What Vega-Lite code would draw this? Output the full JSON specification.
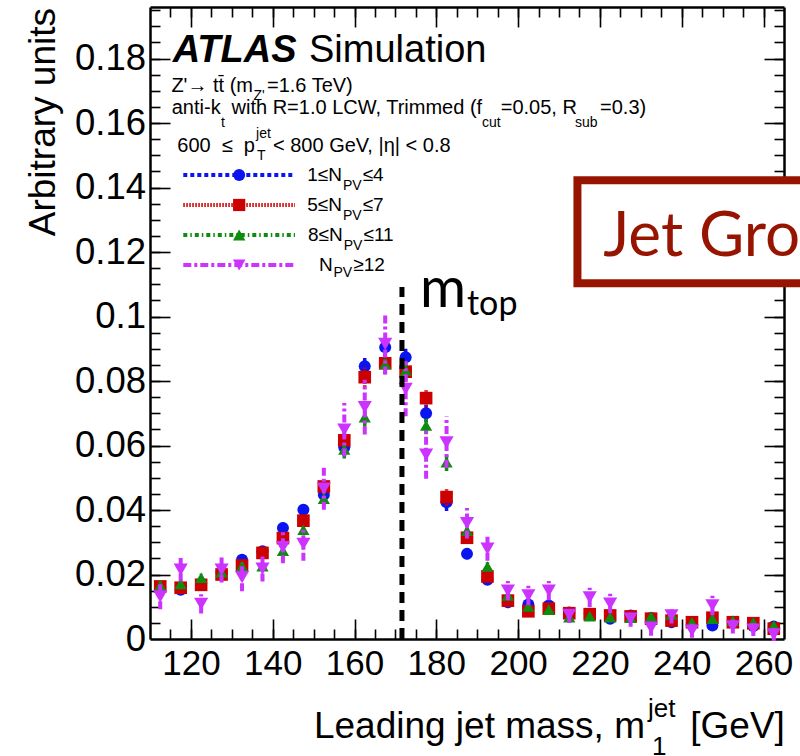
{
  "$schema": "https://vega.github.io/schema/vega-lite/v6.json",
  "width": 634,
  "height": 632,
  "autosize": "none",
  "padding": {"left": 150, "top": 7, "right": 16, "bottom": 117},
  "background": "white",
  "view": {"stroke": null},
  "config": {
    "font": "Liberation Sans",
    "axis": {
      "grid": false,
      "domainColor": "black",
      "domainWidth": 2.5,
      "tickColor": "black",
      "tickWidth": 1.6,
      "labelColor": "black",
      "labelFont": "Liberation Sans",
      "labelFontSize": 35,
      "labelOverlap": false,
      "labelFlush": false
    }
  },
  "datasets": {
    "n1_4": [
      {"m": 112.5, "v": 0.0160, "e": 0.0013}, {"m": 117.5, "v": 0.0153, "e": 0.0013},
      {"m": 122.5, "v": 0.0172, "e": 0.0012}, {"m": 127.5, "v": 0.0207, "e": 0.0013},
      {"m": 132.5, "v": 0.0246, "e": 0.0015}, {"m": 137.5, "v": 0.0272, "e": 0.0015},
      {"m": 142.5, "v": 0.0344, "e": 0.0017}, {"m": 147.5, "v": 0.0401, "e": 0.0018},
      {"m": 152.5, "v": 0.0447, "e": 0.0022}, {"m": 157.5, "v": 0.0595, "e": 0.0028},
      {"m": 162.5, "v": 0.0846, "e": 0.0030}, {"m": 167.5, "v": 0.0905, "e": 0.0032},
      {"m": 172.5, "v": 0.0874, "e": 0.0030}, {"m": 177.5, "v": 0.0700, "e": 0.0027},
      {"m": 182.5, "v": 0.0424, "e": 0.0027}, {"m": 187.5, "v": 0.0264, "e": 0.0017},
      {"m": 192.5, "v": 0.0184, "e": 0.0013}, {"m": 197.5, "v": 0.0114, "e": 0.0010},
      {"m": 202.5, "v": 0.0107, "e": 0.0010}, {"m": 207.5, "v": 0.0104, "e": 0.0010},
      {"m": 212.5, "v": 0.0082, "e": 0.0009}, {"m": 217.5, "v": 0.0078, "e": 0.0009},
      {"m": 222.5, "v": 0.0063, "e": 0.0009}, {"m": 227.5, "v": 0.0073, "e": 0.0008},
      {"m": 232.5, "v": 0.0065, "e": 0.0008}, {"m": 237.5, "v": 0.0052, "e": 0.0008},
      {"m": 242.5, "v": 0.0051, "e": 0.0008}, {"m": 247.5, "v": 0.0042, "e": 0.0008},
      {"m": 252.5, "v": 0.0050, "e": 0.0007}, {"m": 257.5, "v": 0.0040, "e": 0.0007},
      {"m": 262.5, "v": 0.0039, "e": 0.0007}
    ],
    "n5_7": [
      {"m": 112.5, "v": 0.0163, "e": 0.0013}, {"m": 117.5, "v": 0.0159, "e": 0.0013},
      {"m": 122.5, "v": 0.0168, "e": 0.0012}, {"m": 127.5, "v": 0.0200, "e": 0.0013},
      {"m": 132.5, "v": 0.0228, "e": 0.0015}, {"m": 137.5, "v": 0.0267, "e": 0.0015},
      {"m": 142.5, "v": 0.0313, "e": 0.0017}, {"m": 147.5, "v": 0.0367, "e": 0.0018},
      {"m": 152.5, "v": 0.0473, "e": 0.0022}, {"m": 157.5, "v": 0.0616, "e": 0.0028},
      {"m": 162.5, "v": 0.0812, "e": 0.0030}, {"m": 167.5, "v": 0.0855, "e": 0.0032},
      {"m": 172.5, "v": 0.0829, "e": 0.0030}, {"m": 177.5, "v": 0.0747, "e": 0.0027},
      {"m": 182.5, "v": 0.0440, "e": 0.0027}, {"m": 187.5, "v": 0.0314, "e": 0.0017},
      {"m": 192.5, "v": 0.0194, "e": 0.0013}, {"m": 197.5, "v": 0.0119, "e": 0.0010},
      {"m": 202.5, "v": 0.0086, "e": 0.0010}, {"m": 207.5, "v": 0.0094, "e": 0.0010},
      {"m": 212.5, "v": 0.0080, "e": 0.0009}, {"m": 217.5, "v": 0.0077, "e": 0.0009},
      {"m": 222.5, "v": 0.0073, "e": 0.0009}, {"m": 227.5, "v": 0.0070, "e": 0.0008},
      {"m": 232.5, "v": 0.0063, "e": 0.0008}, {"m": 237.5, "v": 0.0057, "e": 0.0008},
      {"m": 242.5, "v": 0.0052, "e": 0.0008}, {"m": 247.5, "v": 0.0066, "e": 0.0008},
      {"m": 252.5, "v": 0.0052, "e": 0.0007}, {"m": 257.5, "v": 0.0049, "e": 0.0007},
      {"m": 262.5, "v": 0.0032, "e": 0.0007}
    ],
    "n8_11": [
      {"m": 112.5, "v": 0.0166, "e": 0.0013}, {"m": 117.5, "v": 0.0171, "e": 0.0013},
      {"m": 122.5, "v": 0.0190, "e": 0.0012}, {"m": 127.5, "v": 0.0207, "e": 0.0013},
      {"m": 132.5, "v": 0.0226, "e": 0.0015}, {"m": 137.5, "v": 0.0226, "e": 0.0015},
      {"m": 142.5, "v": 0.0274, "e": 0.0017}, {"m": 147.5, "v": 0.0339, "e": 0.0018},
      {"m": 152.5, "v": 0.0435, "e": 0.0022}, {"m": 157.5, "v": 0.0588, "e": 0.0028},
      {"m": 162.5, "v": 0.0688, "e": 0.0030}, {"m": 167.5, "v": 0.0853, "e": 0.0032},
      {"m": 172.5, "v": 0.0833, "e": 0.0030}, {"m": 177.5, "v": 0.0662, "e": 0.0027},
      {"m": 182.5, "v": 0.0548, "e": 0.0027}, {"m": 187.5, "v": 0.0336, "e": 0.0017},
      {"m": 192.5, "v": 0.0225, "e": 0.0013}, {"m": 197.5, "v": 0.0135, "e": 0.0010},
      {"m": 202.5, "v": 0.0101, "e": 0.0010}, {"m": 207.5, "v": 0.0091, "e": 0.0010},
      {"m": 212.5, "v": 0.0068, "e": 0.0009}, {"m": 217.5, "v": 0.0071, "e": 0.0009},
      {"m": 222.5, "v": 0.0068, "e": 0.0009}, {"m": 227.5, "v": 0.0066, "e": 0.0008},
      {"m": 232.5, "v": 0.0070, "e": 0.0008}, {"m": 237.5, "v": 0.0076, "e": 0.0008},
      {"m": 242.5, "v": 0.0052, "e": 0.0008}, {"m": 247.5, "v": 0.0063, "e": 0.0008},
      {"m": 252.5, "v": 0.0057, "e": 0.0007}, {"m": 257.5, "v": 0.0052, "e": 0.0007},
      {"m": 262.5, "v": 0.0042, "e": 0.0007}
    ],
    "n12": [
      {"m": 112.5, "v": 0.0132, "e": 0.0040}, {"m": 117.5, "v": 0.0215, "e": 0.0036},
      {"m": 122.5, "v": 0.0109, "e": 0.0030}, {"m": 127.5, "v": 0.0215, "e": 0.0040},
      {"m": 132.5, "v": 0.0192, "e": 0.0044}, {"m": 137.5, "v": 0.0218, "e": 0.0040},
      {"m": 142.5, "v": 0.0285, "e": 0.0050}, {"m": 147.5, "v": 0.0295, "e": 0.0052},
      {"m": 152.5, "v": 0.0466, "e": 0.0065}, {"m": 157.5, "v": 0.0649, "e": 0.0083},
      {"m": 162.5, "v": 0.0719, "e": 0.0085}, {"m": 167.5, "v": 0.0915, "e": 0.0095},
      {"m": 172.5, "v": 0.0776, "e": 0.0085}, {"m": 177.5, "v": 0.0572, "e": 0.0075},
      {"m": 182.5, "v": 0.0610, "e": 0.0080}, {"m": 187.5, "v": 0.0359, "e": 0.0047},
      {"m": 192.5, "v": 0.0280, "e": 0.0037}, {"m": 197.5, "v": 0.0150, "e": 0.0030},
      {"m": 202.5, "v": 0.0135, "e": 0.0030}, {"m": 207.5, "v": 0.0150, "e": 0.0030},
      {"m": 212.5, "v": 0.0075, "e": 0.0025}, {"m": 217.5, "v": 0.0129, "e": 0.0030},
      {"m": 222.5, "v": 0.0110, "e": 0.0030}, {"m": 227.5, "v": 0.0063, "e": 0.0025},
      {"m": 232.5, "v": 0.0035, "e": 0.0025}, {"m": 237.5, "v": 0.0073, "e": 0.0025},
      {"m": 242.5, "v": 0.0026, "e": 0.0022}, {"m": 247.5, "v": 0.0104, "e": 0.0030},
      {"m": 252.5, "v": 0.0039, "e": 0.0022}, {"m": 257.5, "v": 0.0029, "e": 0.0020},
      {"m": 262.5, "v": 0.0014, "e": 0.0020}
    ],
    "legend": [
      {"s": "1-4", "x1": 118.14, "x2": 145.45, "xm": 131.8, "y": 0.14390},
      {"s": "5-7", "x1": 118.14, "x2": 145.45, "xm": 131.8, "y": 0.13460},
      {"s": "8-11", "x1": 118.14, "x2": 145.45, "xm": 131.8, "y": 0.12529},
      {"s": "12+", "x1": 118.14, "x2": 145.45, "xm": 131.8, "y": 0.11599}
    ]
  },
  "layer": [
    {
      "data": {"name": "n1_4"},
      "mark": {"type": "point", "opacity": 0},
      "encoding": {
        "x": {"field": "m", "type": "quantitative", "scale": {"domain": [110, 265], "nice": false, "zero": false},
              "axis": {"orient": "bottom", "values": [120, 140, 160, 180, 200, 220, 240, 260], "ticks": false, "labelPadding": 7, "title": null}},
        "y": {"field": "v", "type": "quantitative", "scale": {"domain": [0, 0.196], "nice": false, "zero": false},
              "axis": {"orient": "left", "values": [0, 0.02, 0.04, 0.06, 0.08, 0.1, 0.12, 0.14, 0.16, 0.18], "format": "~g", "ticks": false, "labelPadding": 4.5, "labelFontSize": 36.5, "title": null}}
      }
    },
    {
      "data": {"name": "n1_4"},
      "mark": {"type": "point", "opacity": 0},
      "encoding": {
        "x": {"field": "m", "type": "quantitative",
              "axis": {"orient": "bottom", "values": [120, 140, 160, 180, 200, 220, 240, 260], "labels": false, "domain": false, "tickSize": -20, "title": null}},
        "y": {"field": "v", "type": "quantitative",
              "axis": {"orient": "left", "values": [0.02, 0.04, 0.06, 0.08, 0.1, 0.12, 0.14, 0.16, 0.18], "labels": false, "domain": false, "tickSize": -20, "title": null}}
      }
    },
    {
      "data": {"name": "n1_4"},
      "mark": {"type": "point", "opacity": 0},
      "encoding": {
        "x": {"field": "m", "type": "quantitative",
              "axis": {"orient": "bottom", "values": [115, 120, 125, 130, 135, 140, 145, 150, 155, 160, 165, 170, 175, 180, 185, 190, 195, 200, 205, 210, 215, 220, 225, 230, 235, 240, 245, 250, 255, 260], "labels": false, "domain": false, "tickSize": -10, "title": null}},
        "y": {"field": "v", "type": "quantitative",
              "axis": {"orient": "left", "values": [0.005, 0.01, 0.015, 0.02, 0.025, 0.03, 0.035, 0.04, 0.045, 0.05, 0.055, 0.06, 0.065, 0.07, 0.075, 0.08, 0.085, 0.09, 0.095, 0.1, 0.105, 0.11, 0.115, 0.12, 0.125, 0.13, 0.135, 0.14, 0.145, 0.15, 0.155, 0.16, 0.165, 0.17, 0.175, 0.18, 0.185, 0.19, 0.195], "labels": false, "domain": false, "tickSize": -10, "title": null}}
      }
    },
    {
      "data": {"name": "n1_4"},
      "mark": {"type": "point", "opacity": 0},
      "encoding": {
        "x": {"field": "m", "type": "quantitative",
              "axis": {"orient": "top", "values": [120, 140, 160, 180, 200, 220, 240, 260], "labels": false, "tickSize": -20, "title": null}},
        "y": {"field": "v", "type": "quantitative",
              "axis": {"orient": "right", "values": [0.02, 0.04, 0.06, 0.08, 0.1, 0.12, 0.14, 0.16, 0.18], "labels": false, "tickSize": -20, "title": null}}
      }
    },
    {
      "data": {"name": "n1_4"},
      "mark": {"type": "point", "opacity": 0},
      "encoding": {
        "x": {"field": "m", "type": "quantitative",
              "axis": {"orient": "top", "values": [115, 120, 125, 130, 135, 140, 145, 150, 155, 160, 165, 170, 175, 180, 185, 190, 195, 200, 205, 210, 215, 220, 225, 230, 235, 240, 245, 250, 255, 260], "labels": false, "domain": false, "tickSize": -10, "title": null}},
        "y": {"field": "v", "type": "quantitative",
              "axis": {"orient": "right", "values": [0.005, 0.01, 0.015, 0.02, 0.025, 0.03, 0.035, 0.04, 0.045, 0.05, 0.055, 0.06, 0.065, 0.07, 0.075, 0.08, 0.085, 0.09, 0.095, 0.1, 0.105, 0.11, 0.115, 0.12, 0.125, 0.13, 0.135, 0.14, 0.145, 0.15, 0.155, 0.16, 0.165, 0.17, 0.175, 0.18, 0.185, 0.19, 0.195], "labels": false, "domain": false, "tickSize": -10, "title": null}}
      }
    },

    {
      "data": {"name": "n1_4"},
      "mark": {"type": "errorbar", "color": "#0a14f0", "thickness": 3.5, "rule": {"strokeDash": [4, 3]}},
      "encoding": {"x": {"field": "m", "type": "quantitative", "axis": null}, "y": {"field": "v", "type": "quantitative", "axis": null}, "xError": {"value": 2.5}}
    },
    {
      "data": {"name": "n1_4"},
      "mark": {"type": "errorbar", "color": "#0a14f0", "thickness": 3.5, "rule": {"strokeDash": [4, 3]}},
      "encoding": {"x": {"field": "m", "type": "quantitative", "axis": null}, "y": {"field": "v", "type": "quantitative", "axis": null}, "yError": {"field": "e"}}
    },
    {
      "data": {"name": "n1_4"},
      "mark": {"type": "point", "shape": "circle", "filled": true, "opacity": 1, "size": 144, "color": "#0a14f0"},
      "encoding": {"x": {"field": "m", "type": "quantitative", "axis": null}, "y": {"field": "v", "type": "quantitative", "axis": null}}
    },

    {
      "data": {"name": "n5_7"},
      "mark": {"type": "errorbar", "color": "#cc0000", "thickness": 3.5, "rule": {"strokeDash": [1.5, 1.5]}},
      "encoding": {"x": {"field": "m", "type": "quantitative", "axis": null}, "y": {"field": "v", "type": "quantitative", "axis": null}, "xError": {"value": 2.5}}
    },
    {
      "data": {"name": "n5_7"},
      "mark": {"type": "errorbar", "color": "#cc0000", "thickness": 3.5, "rule": {"strokeDash": [1.5, 1.5]}},
      "encoding": {"x": {"field": "m", "type": "quantitative", "axis": null}, "y": {"field": "v", "type": "quantitative", "axis": null}, "yError": {"field": "e"}}
    },
    {
      "data": {"name": "n5_7"},
      "mark": {"type": "point", "shape": "square", "filled": true, "opacity": 1, "size": 160, "color": "#cc0000"},
      "encoding": {"x": {"field": "m", "type": "quantitative", "axis": null}, "y": {"field": "v", "type": "quantitative", "axis": null}}
    },

    {
      "data": {"name": "n8_11"},
      "mark": {"type": "errorbar", "color": "#0e8c0e", "thickness": 3.5, "rule": {"strokeDash": [4, 3, 1.5, 3]}},
      "encoding": {"x": {"field": "m", "type": "quantitative", "axis": null}, "y": {"field": "v", "type": "quantitative", "axis": null}, "xError": {"value": 2.5}}
    },
    {
      "data": {"name": "n8_11"},
      "mark": {"type": "errorbar", "color": "#0e8c0e", "thickness": 3.5, "rule": {"strokeDash": [4, 3, 1.5, 3]}},
      "encoding": {"x": {"field": "m", "type": "quantitative", "axis": null}, "y": {"field": "v", "type": "quantitative", "axis": null}, "yError": {"field": "e"}}
    },
    {
      "data": {"name": "n8_11"},
      "mark": {"type": "point", "shape": "triangle-up", "filled": true, "opacity": 1, "size": 150, "color": "#0e8c0e"},
      "encoding": {"x": {"field": "m", "type": "quantitative", "axis": null}, "y": {"field": "v", "type": "quantitative", "axis": null}}
    },

    {
      "data": {"name": "n12"},
      "mark": {"type": "errorbar", "color": "#cc33ff", "thickness": 4, "rule": {"strokeDash": [8, 3, 3, 3]}},
      "encoding": {"x": {"field": "m", "type": "quantitative", "axis": null}, "y": {"field": "v", "type": "quantitative", "axis": null}, "xError": {"value": 2.5}}
    },
    {
      "data": {"name": "n12"},
      "mark": {"type": "errorbar", "color": "#cc33ff", "thickness": 4, "rule": {"strokeDash": [8, 3, 3, 3]}},
      "encoding": {"x": {"field": "m", "type": "quantitative", "axis": null}, "y": {"field": "v", "type": "quantitative", "axis": null}, "yError": {"field": "e"}}
    },
    {
      "data": {"name": "n12"},
      "mark": {"type": "point", "shape": "triangle-down", "filled": true, "opacity": 1, "size": 200, "color": "#cc33ff"},
      "encoding": {"x": {"field": "m", "type": "quantitative", "axis": null}, "y": {"field": "v", "type": "quantitative", "axis": null}}
    },

    {
      "data": {"values": [{"m": 171.6, "lo": 0, "hi": 0.1092}]},
      "mark": {"type": "rule", "color": "black", "strokeWidth": 5, "strokeDash": [11, 7]},
      "encoding": {"x": {"field": "m", "type": "quantitative", "axis": null}, "y": {"field": "lo", "type": "quantitative", "axis": null}, "y2": {"field": "hi"}}
    },

    {
      "data": {"name": "legend"},
      "mark": {"type": "rule", "strokeWidth": 4},
      "encoding": {
        "x": {"field": "x1", "type": "quantitative", "axis": null},
        "x2": {"field": "x2"},
        "y": {"field": "y", "type": "quantitative", "axis": null},
        "color": {"field": "s", "type": "nominal", "legend": null,
                  "scale": {"domain": ["1-4", "5-7", "8-11", "12+"], "range": ["#0a14f0", "#cc0000", "#0e8c0e", "#cc33ff"]}},
        "strokeDash": {"field": "s", "type": "nominal", "legend": null,
                       "scale": {"domain": ["1-4", "5-7", "8-11", "12+"], "range": [[4, 3], [1.5, 1.5], [4, 3, 1.5, 3], [8, 3, 3, 3]]}}
      }
    },
    {
      "data": {"name": "legend"},
      "mark": {"type": "point", "filled": true, "opacity": 1},
      "encoding": {
        "x": {"field": "xm", "type": "quantitative", "axis": null},
        "y": {"field": "y", "type": "quantitative", "axis": null},
        "color": {"field": "s", "type": "nominal", "legend": null,
                  "scale": {"domain": ["1-4", "5-7", "8-11", "12+"], "range": ["#0a14f0", "#cc0000", "#0e8c0e", "#cc33ff"]}},
        "shape": {"field": "s", "type": "nominal", "legend": null,
                  "scale": {"domain": ["1-4", "5-7", "8-11", "12+"], "range": ["circle", "square", "triangle-up", "triangle-down"]}},
        "size": {"field": "s", "type": "nominal", "legend": null,
                 "scale": {"domain": ["1-4", "5-7", "8-11", "12+"], "range": [144, 160, 150, 200]}}
      }
    },

    {
      "data": {"values": [
        {"x": 156.94, "y": 0.14204, "t": "1≤N"},
        {"x": 156.94, "y": 0.13273, "t": "5≤N"},
        {"x": 157.11, "y": 0.12343, "t": "8≤N"},
        {"x": 154.67, "y": 0.11413, "t": "N"}
      ]},
      "mark": {"type": "text", "align": "right", "baseline": "alphabetic", "fontSize": 19, "color": "black"},
      "encoding": {"x": {"field": "x", "type": "quantitative", "axis": null}, "y": {"field": "y", "type": "quantitative", "axis": null}, "text": {"field": "t"}}
    },
    {
      "data": {"values": [
        {"x": 157.18, "y": 0.13918, "t": "PV"},
        {"x": 157.18, "y": 0.12987, "t": "PV"},
        {"x": 157.35, "y": 0.12057, "t": "PV"},
        {"x": 154.86, "y": 0.11227, "t": "PV"}
      ]},
      "mark": {"type": "text", "align": "left", "baseline": "alphabetic", "fontSize": 14, "color": "black"},
      "encoding": {"x": {"field": "x", "type": "quantitative", "axis": null}, "y": {"field": "y", "type": "quantitative", "axis": null}, "text": {"field": "t"}}
    },
    {
      "data": {"values": [
        {"x": 162.0, "y": 0.14204, "t": "≤4"},
        {"x": 162.0, "y": 0.13273, "t": "≤7"},
        {"x": 162.2, "y": 0.12343, "t": "≤11"},
        {"x": 159.7, "y": 0.11413, "t": "≥12"}
      ]},
      "mark": {"type": "text", "align": "left", "baseline": "alphabetic", "fontSize": 19, "color": "black"},
      "encoding": {"x": {"field": "x", "type": "quantitative", "axis": null}, "y": {"field": "y", "type": "quantitative", "axis": null}, "text": {"field": "t"}}
    },

    {
      "data": {"values": [{"x": 115.55, "y": 0.17904, "t": "ATLAS"}]},
      "mark": {"type": "text", "align": "left", "baseline": "alphabetic", "fontSize": 38, "fontWeight": "bold", "fontStyle": "italic", "color": "black"},
      "encoding": {"x": {"field": "x", "type": "quantitative", "axis": null}, "y": {"field": "y", "type": "quantitative", "axis": null}, "text": {"field": "t"}}
    },
    {
      "data": {"values": [{"x": 148.87, "y": 0.17904, "t": "Simulation"}]},
      "mark": {"type": "text", "align": "left", "baseline": "alphabetic", "fontSize": 38, "color": "black"},
      "encoding": {"x": {"field": "x", "type": "quantitative", "axis": null}, "y": {"field": "y", "type": "quantitative", "axis": null}, "text": {"field": "t"}}
    },
    {
      "data": {"values": [
        {"x": 138.6, "y": 0.16973, "t": "=1.6 TeV)"},
        {"x": 115.31, "y": 0.16272, "t": "anti-k"},
        {"x": 129.93, "y": 0.16272, "t": "with R=1.0 LCW, Trimmed (f"},
        {"x": 195.74, "y": 0.16272, "t": "=0.05, R"},
        {"x": 220.02, "y": 0.16272, "t": "=0.3)"},
        {"x": 140.07, "y": 0.15112, "t": "< 800 GeV, |η| < 0.8"}
      ]},
      "mark": {"type": "text", "align": "left", "baseline": "alphabetic", "fontSize": 20, "color": "black"},
      "encoding": {"x": {"field": "x", "type": "quantitative", "axis": null}, "y": {"field": "y", "type": "quantitative", "axis": null}, "text": {"field": "t"}}
    },
    {
      "data": {"values": [
        {"x": 135.18, "y": 0.16973, "t": "Z'→ tt̄ (m"},
        {"x": 135.67, "y": 0.15112, "t": "600\u00a0 ≤\u00a0 p"}
      ]},
      "mark": {"type": "text", "align": "right", "baseline": "alphabetic", "fontSize": 20, "color": "black"},
      "encoding": {"x": {"field": "x", "type": "quantitative", "axis": null}, "y": {"field": "y", "type": "quantitative", "axis": null}, "text": {"field": "t"}}
    },
    {
      "data": {"values": [
        {"x": 135.3, "y": 0.16716, "t": "Z'"},
        {"x": 127.36, "y": 0.15878, "t": "t"},
        {"x": 191.17, "y": 0.15878, "t": "cut"},
        {"x": 213.9, "y": 0.15878, "t": "sub"},
        {"x": 135.92, "y": 0.15537, "t": "jet"},
        {"x": 136.16, "y": 0.1486, "t": "T"}
      ]},
      "mark": {"type": "text", "align": "left", "baseline": "alphabetic", "fontSize": 14, "color": "black"},
      "encoding": {"x": {"field": "x", "type": "quantitative", "axis": null}, "y": {"field": "y", "type": "quantitative", "axis": null}, "text": {"field": "t"}}
    },

    {
      "data": {"values": [
        {"x": 231.02, "y": -0.0307, "t": "Leading jet mass, m"},
        {"x": 265.22, "y": -0.0307, "t": "[GeV]"}
      ]},
      "mark": {"type": "text", "align": "right", "baseline": "alphabetic", "fontSize": 37, "color": "black"},
      "encoding": {"x": {"field": "x", "type": "quantitative", "axis": null}, "y": {"field": "y", "type": "quantitative", "axis": null}, "text": {"field": "t"}}
    },
    {
      "data": {"values": [
        {"x": 231.75, "y": -0.0241, "t": "jet"},
        {"x": 232.73, "y": -0.0360, "t": "1"}
      ]},
      "mark": {"type": "text", "align": "left", "baseline": "alphabetic", "fontSize": 26, "color": "black"},
      "encoding": {"x": {"field": "x", "type": "quantitative", "axis": null}, "y": {"field": "y", "type": "quantitative", "axis": null}, "text": {"field": "t"}}
    },
    {
      "data": {"values": [{"x": 86.77, "y": 0.19569, "t": "Arbitrary units"}]},
      "mark": {"type": "text", "align": "right", "baseline": "alphabetic", "angle": 270, "fontSize": 37, "color": "black"},
      "encoding": {"x": {"field": "x", "type": "quantitative", "axis": null}, "y": {"field": "y", "type": "quantitative", "axis": null}, "text": {"field": "t"}}
    },

    {
      "data": {"values": [{"x": 176.01, "y": 0.10305, "t": "m"}]},
      "mark": {"type": "text", "align": "left", "baseline": "alphabetic", "font": "Lato", "fontSize": 56, "color": "black"},
      "encoding": {"x": {"field": "x", "type": "quantitative", "axis": null}, "y": {"field": "y", "type": "quantitative", "axis": null}, "text": {"field": "t"}}
    },
    {
      "data": {"values": [{"x": 187.5, "y": 0.10048, "t": "top"}]},
      "mark": {"type": "text", "align": "left", "baseline": "alphabetic", "font": "Lato", "fontSize": 34, "color": "black"},
      "encoding": {"x": {"field": "x", "type": "quantitative", "axis": null}, "y": {"field": "y", "type": "quantitative", "axis": null}, "text": {"field": "t"}}
    },

    {
      "data": {"values": [{"x1": 214.5, "x2": 276, "y1": 0.1423, "y2": 0.1103}]},
      "mark": {"type": "rect", "fill": "white", "stroke": "#961400", "strokeWidth": 8},
      "encoding": {"x": {"field": "x1", "type": "quantitative", "axis": null}, "x2": {"field": "x2"}, "y": {"field": "y1", "type": "quantitative", "axis": null}, "y2": {"field": "y2"}}
    },
    {
      "data": {"values": [{"x": 220.82, "y": 0.11878, "t": "Jet Grooming"}]},
      "mark": {"type": "text", "align": "left", "baseline": "alphabetic", "font": "Lato", "fontSize": 62, "color": "#961400"},
      "encoding": {"x": {"field": "x", "type": "quantitative", "axis": null}, "y": {"field": "y", "type": "quantitative", "axis": null}, "text": {"field": "t"}}
    }
  ],
  "resolve": {"axis": {"x": "independent", "y": "independent"}}
}
